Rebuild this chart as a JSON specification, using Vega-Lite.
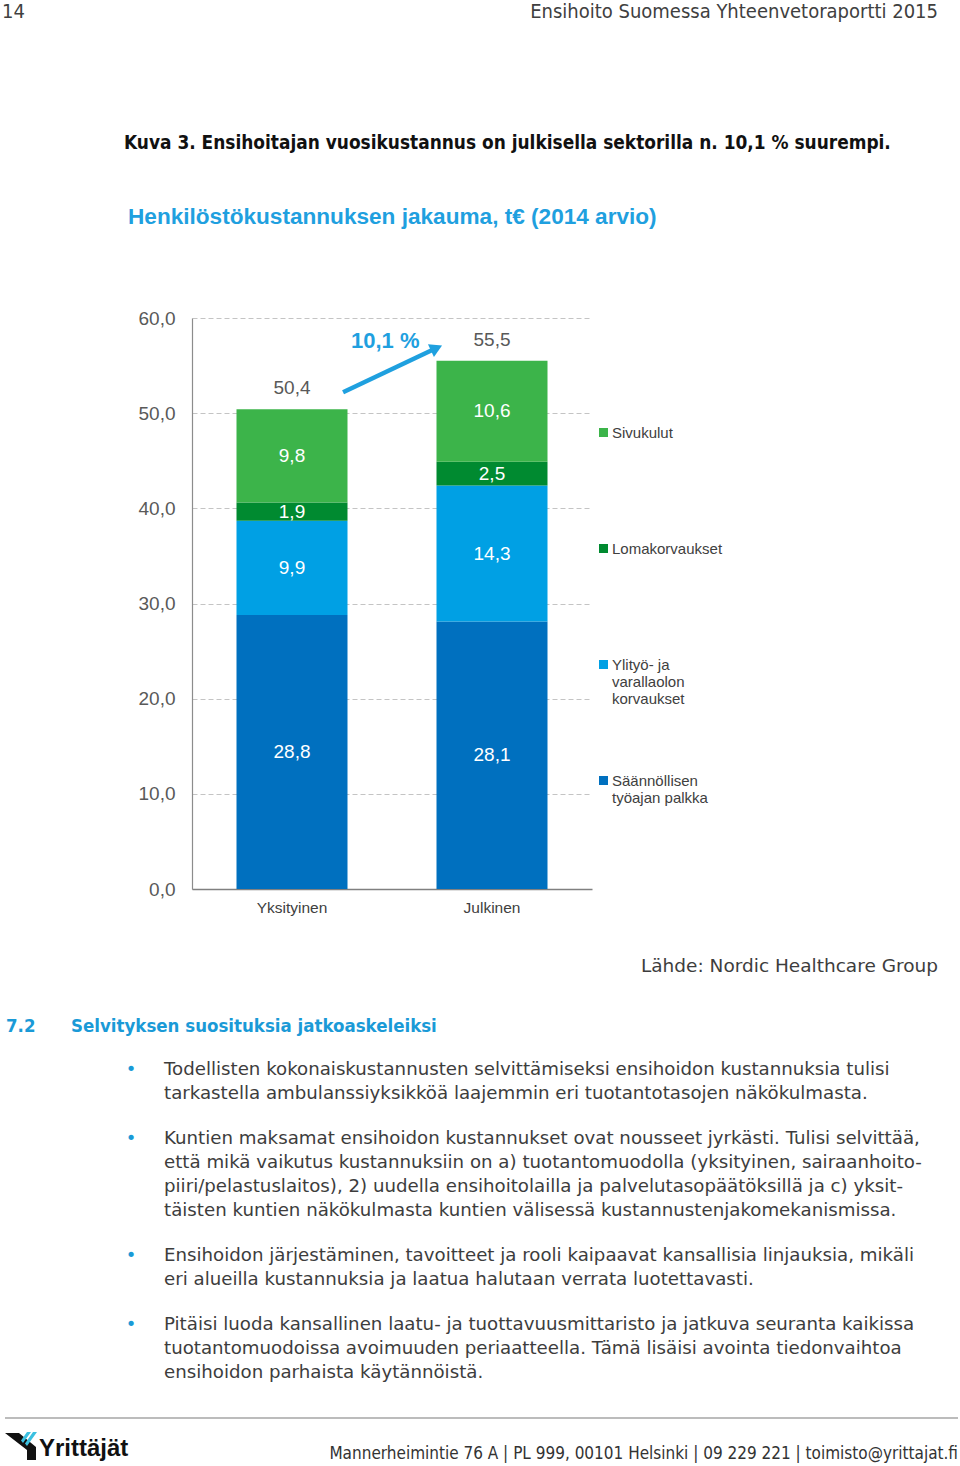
{
  "$schema": "https://vega.github.io/schema/vega-lite/v6.json",
  "padding": 0,
  "background": "#ffffff",
  "spacing": 0,
  "config": {
    "view": {"stroke": null},
    "locale": {"number": {"decimal": ",", "thousands": " ", "grouping": [3], "currency": ["", " €"]}}
  },
  "datasets": {
    "costs": [
      {"cat": "Yksityinen", "comp": "Säännöllisen työajan palkka", "ord": 1, "v": 28.8},
      {"cat": "Yksityinen", "comp": "Ylityö- ja varallaolon korvaukset", "ord": 2, "v": 9.9},
      {"cat": "Yksityinen", "comp": "Lomakorvaukset", "ord": 3, "v": 1.9},
      {"cat": "Yksityinen", "comp": "Sivukulut", "ord": 4, "v": 9.8},
      {"cat": "Julkinen", "comp": "Säännöllisen työajan palkka", "ord": 1, "v": 28.1},
      {"cat": "Julkinen", "comp": "Ylityö- ja varallaolon korvaukset", "ord": 2, "v": 14.3},
      {"cat": "Julkinen", "comp": "Lomakorvaukset", "ord": 3, "v": 2.5},
      {"cat": "Julkinen", "comp": "Sivukulut", "ord": 4, "v": 10.6}
    ],
    "totals": [{"cat": "Yksityinen", "v": 50.4}, {"cat": "Julkinen", "v": 55.5}],
    "arrow": [{"cat": "Yksityinen", "off": 0.96, "v": 52.2}, {"cat": "Julkinen", "off": 0.0, "v": 56.85}],
    "arrowhead": [{"cat": "Julkinen", "off": 0.0, "v": 56.85}],
    "growth": [{"cat": "Yksityinen", "off": 1.34, "v": 57.55, "t": "10,1 %"}]
  },
  "vconcat": [
    {"hconcat": [
      {"width": 1, "height": 24, "mark": "text", "data": {"values": []}},
      {"width": 2, "height": 24, "data": {"values": [{"t": "14"}]}, "mark": {"type": "text", "align": "left", "baseline": "middle", "font": "DejaVu Sans Condensed", "fontSize": 20, "color": "#404040"}, "encoding": {"text": {"field": "t"}}},
      {"width": 934, "height": 24, "mark": "text", "data": {"values": []}},
      {"width": 2, "height": 24, "data": {"values": [{"t": "Ensihoito Suomessa Yhteenvetoraportti 2015"}]}, "mark": {"type": "text", "align": "right", "baseline": "middle", "font": "DejaVu Sans Condensed", "fontSize": 20, "color": "#404040"}, "encoding": {"text": {"field": "t"}}}
    ], "spacing": 0, "bounds": "flush"},
    {"width": 1, "height": 109, "mark": "text", "data": {"values": []}},
    {"hconcat": [
      {"width": 123, "height": 20, "mark": "text", "data": {"values": []}},
      {"width": 2, "height": 20, "data": {"values": [{"t": "Kuva 3. Ensihoitajan vuosikustannus on julkisella sektorilla n. 10,1 % suurempi."}]}, "mark": {"type": "text", "align": "left", "baseline": "middle", "font": "DejaVu Sans Condensed", "fontSize": 18.9, "fontWeight": "bold", "color": "#111111"}, "encoding": {"text": {"field": "t"}}}
    ], "spacing": 0, "bounds": "flush"},
    {"width": 1, "height": 51.5, "mark": "text", "data": {"values": []}},
    {"hconcat": [
      {"width": 127, "height": 23, "mark": "text", "data": {"values": []}},
      {"width": 2, "height": 23, "data": {"values": [{"t": "Henkilöstökustannuksen jakauma, t€ (2014 arvio)"}]}, "mark": {"type": "text", "align": "left", "baseline": "middle", "font": "Liberation Sans", "fontSize": 22.6, "fontWeight": "bold", "color": "#1fa0df"}, "encoding": {"text": {"field": "t"}}}
    ], "spacing": 0, "bounds": "flush"},
    {"width": 1, "height": 79.5, "mark": "text", "data": {"values": []}},
    {"hconcat": [
      {"width": 192, "height": 571, "mark": "text", "data": {"values": []}},
      {
        "width": 400,
        "height": 571,
        "resolve": {"scale": {"xOffset": "independent"}},
        "encoding": {
          "x": {"field": "cat", "type": "nominal", "sort": ["Yksityinen", "Julkinen"],
            "scale": {"paddingInner": 0.445, "paddingOuter": 0.2225},
            "axis": {"title": null, "labelAngle": 0, "ticks": false, "domainColor": "#808080", "domainWidth": 1.5, "labelFont": "Liberation Sans", "labelFontSize": 15.5, "labelColor": "#404040", "labelPadding": 11}}
        },
        "layer": [
          {
            "data": {"name": "costs"},
            "mark": {"type": "bar"},
            "encoding": {
              "y": {"field": "v", "type": "quantitative", "stack": "zero", "scale": {"domain": [0, 60], "nice": false},
                "axis": {"title": null, "values": [0, 10, 20, 30, 40, 50, 60], "format": ".1f", "ticks": false, "grid": true, "gridColor": "#c4c4c4", "gridDash": [5, 3], "gridWidth": 1, "domainColor": "#8c8c8c", "domainWidth": 1.2, "labelFont": "Liberation Sans", "labelFontSize": 19, "labelColor": "#595959", "labelPadding": 17}},
              "color": {"field": "comp", "type": "nominal",
                "scale": {"domain": ["Sivukulut", "Lomakorvaukset", "Ylityö- ja varallaolon korvaukset", "Säännöllisen työajan palkka"], "range": ["#3cb44a", "#008a30", "#00a0e4", "#0070bf"]},
                "legend": {"title": null, "orient": "none", "legendX": 596, "legendY": 425, "padding": 0, "symbolType": "square", "symbolSize": 81, "symbolStrokeWidth": 0, "labelFont": "Liberation Sans", "labelFontSize": 15, "labelColor": "#404040", "labelOffset": 1, "rowPadding": 66, "labelLimit": 250,
                  "labelExpr": "datum.label == 'Sivukulut' ? ['Sivukulut', '', ''] : datum.label == 'Lomakorvaukset' ? ['Lomakorvaukset', '', ''] : datum.label == 'Säännöllisen työajan palkka' ? ['Säännöllisen', 'työajan palkka', ''] : ['Ylityö- ja', 'varallaolon', 'korvaukset']"}},
              "order": {"field": "ord", "type": "quantitative"}
            }
          },
          {
            "data": {"name": "costs"},
            "mark": {"type": "text", "color": "#ffffff", "font": "Liberation Sans", "fontSize": 19, "baseline": "middle"},
            "encoding": {
              "y": {"field": "v", "type": "quantitative", "stack": "zero", "bandPosition": 0.5},
              "detail": {"field": "comp"},
              "order": {"field": "ord", "type": "quantitative"},
              "text": {"field": "v", "type": "quantitative", "format": ".1f"}
            }
          },
          {
            "data": {"name": "totals"},
            "mark": {"type": "text", "color": "#595959", "font": "Liberation Sans", "fontSize": 19, "baseline": "bottom", "dy": -11},
            "encoding": {
              "y": {"field": "v", "type": "quantitative"},
              "text": {"field": "v", "type": "quantitative", "format": ".1f"}
            }
          },
          {
            "data": {"name": "arrow"},
            "mark": {"type": "line", "color": "#1fa0df", "strokeWidth": 4.5},
            "encoding": {
              "y": {"field": "v", "type": "quantitative"},
              "xOffset": {"field": "off", "type": "quantitative", "scale": {"domain": [0, 1]}}
            }
          },
          {
            "data": {"name": "arrowhead"},
            "mark": {"type": "point", "shape": "triangle-right", "angle": -25, "size": 200, "filled": true, "opacity": 1, "strokeWidth": 0, "color": "#1fa0df"},
            "encoding": {
              "y": {"field": "v", "type": "quantitative"},
              "xOffset": {"field": "off", "type": "quantitative", "scale": {"domain": [0, 1]}}
            }
          },
          {
            "data": {"name": "growth"},
            "mark": {"type": "text", "color": "#1fa0df", "font": "Liberation Sans", "fontSize": 22, "fontWeight": "bold", "baseline": "middle"},
            "encoding": {
              "y": {"field": "v", "type": "quantitative"},
              "xOffset": {"field": "off", "type": "quantitative", "scale": {"domain": [0, 1]}},
              "text": {"field": "t"}
            }
          }
        ]
      }
    ], "spacing": 0, "bounds": "flush"},
    {"width": 1, "height": 39.5, "mark": "text", "data": {"values": []}},
    {"hconcat": [
      {"width": 937, "height": 20, "mark": "text", "data": {"values": []}},
      {"width": 2, "height": 20, "data": {"values": [{"t": "Lähde: Nordic Healthcare Group"}]}, "mark": {"type": "text", "align": "right", "baseline": "middle", "font": "DejaVu Sans", "fontSize": 18.5, "color": "#3d3d3d"}, "encoding": {"text": {"field": "t"}}}
    ], "spacing": 0, "bounds": "flush"},
    {"width": 1, "height": 39, "mark": "text", "data": {"values": []}},
    {"hconcat": [
      {"width": 5, "height": 21, "mark": "text", "data": {"values": []}},
      {"width": 2, "height": 21, "data": {"values": [{"t": "7.2"}]}, "mark": {"type": "text", "align": "left", "baseline": "middle", "font": "DejaVu Sans Condensed", "fontSize": 18.5, "fontWeight": "bold", "color": "#1a9ad7"}, "encoding": {"text": {"field": "t"}}},
      {"width": 63, "height": 21, "mark": "text", "data": {"values": []}},
      {"width": 2, "height": 21, "data": {"values": [{"t": "Selvityksen suosituksia jatkoaskeleiksi"}]}, "mark": {"type": "text", "align": "left", "baseline": "middle", "font": "DejaVu Sans Condensed", "fontSize": 18.5, "fontWeight": "bold", "color": "#1a9ad7"}, "encoding": {"text": {"field": "t"}}}
    ], "spacing": 0, "bounds": "flush"},
    {"width": 1, "height": 11.5, "mark": "text", "data": {"values": []}},
    {"hconcat": [
      {"width": 130, "height": 10, "mark": "text", "data": {"values": []}},
      {"width": 2, "height": {"step": 24}, "data": {"values": [{"line": 1}]}, "mark": {"type": "text", "text": "•", "align": "center", "baseline": "middle", "font": "DejaVu Sans", "fontSize": 18, "color": "#1a9ad7"}, "encoding": {"y": {"field": "line", "type": "ordinal", "axis": null, "scale": {"type": "band", "paddingInner": 0, "paddingOuter": 0.427}}}},
      {"width": 31, "height": 10, "mark": "text", "data": {"values": []}},
      {"width": 2, "height": {"step": 24}, "data": {"values": [
        {"line": 1, "t": "Todellisten kokonaiskustannusten selvittämiseksi ensihoidon kustannuksia tulisi"},
        {"line": 2, "t": "tarkastella ambulanssiyksikköä laajemmin eri tuotantotasojen näkökulmasta."}
      ]}, "mark": {"type": "text", "align": "left", "baseline": "middle", "font": "DejaVu Sans", "fontSize": 18.2, "color": "#3d3d3d"}, "encoding": {"y": {"field": "line", "type": "ordinal", "axis": null, "scale": {"type": "band", "paddingInner": 0, "paddingOuter": 0.427}}, "text": {"field": "t"}}}
    ], "spacing": 0, "bounds": "flush"},
    {"hconcat": [
      {"width": 130, "height": 10, "mark": "text", "data": {"values": []}},
      {"width": 2, "height": {"step": 24}, "data": {"values": [{"line": 1}]}, "mark": {"type": "text", "text": "•", "align": "center", "baseline": "middle", "font": "DejaVu Sans", "fontSize": 18, "color": "#1a9ad7"}, "encoding": {"y": {"field": "line", "type": "ordinal", "axis": null, "scale": {"type": "band", "paddingInner": 0, "paddingOuter": 0.427}}}},
      {"width": 31, "height": 10, "mark": "text", "data": {"values": []}},
      {"width": 2, "height": {"step": 24}, "data": {"values": [
        {"line": 1, "t": "Kuntien maksamat ensihoidon kustannukset ovat nousseet jyrkästi. Tulisi selvittää,"},
        {"line": 2, "t": "että mikä vaikutus kustannuksiin on a) tuotantomuodolla (yksityinen, sairaanhoito-"},
        {"line": 3, "t": "piiri/pelastuslaitos), 2) uudella ensihoitolailla ja palvelutasopäätöksillä ja c) yksit-"},
        {"line": 4, "t": "täisten kuntien näkökulmasta kuntien välisessä kustannustenjakomekanismissa."}
      ]}, "mark": {"type": "text", "align": "left", "baseline": "middle", "font": "DejaVu Sans", "fontSize": 18.2, "color": "#3d3d3d"}, "encoding": {"y": {"field": "line", "type": "ordinal", "axis": null, "scale": {"type": "band", "paddingInner": 0, "paddingOuter": 0.427}}, "text": {"field": "t"}}}
    ], "spacing": 0, "bounds": "flush"},
    {"hconcat": [
      {"width": 130, "height": 10, "mark": "text", "data": {"values": []}},
      {"width": 2, "height": {"step": 24}, "data": {"values": [{"line": 1}]}, "mark": {"type": "text", "text": "•", "align": "center", "baseline": "middle", "font": "DejaVu Sans", "fontSize": 18, "color": "#1a9ad7"}, "encoding": {"y": {"field": "line", "type": "ordinal", "axis": null, "scale": {"type": "band", "paddingInner": 0, "paddingOuter": 0.427}}}},
      {"width": 31, "height": 10, "mark": "text", "data": {"values": []}},
      {"width": 2, "height": {"step": 24}, "data": {"values": [
        {"line": 1, "t": "Ensihoidon järjestäminen, tavoitteet ja rooli kaipaavat kansallisia linjauksia, mikäli"},
        {"line": 2, "t": "eri alueilla kustannuksia ja laatua halutaan verrata luotettavasti."}
      ]}, "mark": {"type": "text", "align": "left", "baseline": "middle", "font": "DejaVu Sans", "fontSize": 18.2, "color": "#3d3d3d"}, "encoding": {"y": {"field": "line", "type": "ordinal", "axis": null, "scale": {"type": "band", "paddingInner": 0, "paddingOuter": 0.427}}, "text": {"field": "t"}}}
    ], "spacing": 0, "bounds": "flush"},
    {"hconcat": [
      {"width": 130, "height": 10, "mark": "text", "data": {"values": []}},
      {"width": 2, "height": {"step": 24}, "data": {"values": [{"line": 1}]}, "mark": {"type": "text", "text": "•", "align": "center", "baseline": "middle", "font": "DejaVu Sans", "fontSize": 18, "color": "#1a9ad7"}, "encoding": {"y": {"field": "line", "type": "ordinal", "axis": null, "scale": {"type": "band", "paddingInner": 0, "paddingOuter": 0.427}}}},
      {"width": 31, "height": 10, "mark": "text", "data": {"values": []}},
      {"width": 2, "height": {"step": 24}, "data": {"values": [
        {"line": 1, "t": "Pitäisi luoda kansallinen laatu- ja tuottavuusmittaristo ja jatkuva seuranta kaikissa"},
        {"line": 2, "t": "tuotantomuodoissa avoimuuden periaatteella. Tämä lisäisi avointa tiedonvaihtoa"},
        {"line": 3, "t": "ensihoidon parhaista käytännöistä."}
      ]}, "mark": {"type": "text", "align": "left", "baseline": "middle", "font": "DejaVu Sans", "fontSize": 18.2, "color": "#3d3d3d"}, "encoding": {"y": {"field": "line", "type": "ordinal", "axis": null, "scale": {"type": "band", "paddingInner": 0, "paddingOuter": 0.427}}, "text": {"field": "t"}}}
    ], "spacing": 0, "bounds": "flush"},
    {"width": 1, "height": 20.5, "mark": "text", "data": {"values": []}},
    {"hconcat": [
      {"width": 5, "height": 1, "mark": "text", "data": {"values": []}},
      {"width": 953, "height": 1, "data": {"values": [{}]}, "mark": {"type": "rule", "color": "#a6a6a6", "strokeWidth": 1.5}, "encoding": {"y": {"datum": 0, "type": "quantitative", "scale": {"domain": [0, 1]}, "axis": null}}}
    ], "spacing": 0, "bounds": "flush"},
    {"width": 1, "height": 10.25, "mark": "text", "data": {"values": []}},
    {"hconcat": [
      {"width": 4, "height": 30, "mark": "text", "data": {"values": []}},
      {"width": 34, "height": 30, "data": {"values": [{}]}, "layer": [
        {"mark": {"type": "point", "shape": "M-0.941,-0.706L-0.118,-0.706L0.882,0.118L0.882,0.882L0.353,0.882L0.353,0.294Z", "size": 1156, "filled": true, "opacity": 1, "strokeWidth": 0, "color": "#111111"}, "encoding": {}},
        {"mark": {"type": "point", "shape": "M0.353,-0.765L0.588,-0.765L0.118,-0.118L0,-0.265ZM0.706,-0.765L0.941,-0.765L0.353,0.059L0.235,-0.088Z", "size": 1156, "filled": true, "opacity": 1, "strokeWidth": 0, "color": "#3cc0e0"}, "encoding": {}}
      ]},
      {"width": 2, "height": 14.4, "data": {"values": [{"t": "Yrittäjät"}]}, "mark": {"type": "text", "align": "left", "baseline": "top", "font": "Liberation Sans", "fontSize": 24, "fontWeight": "bold", "color": "#111111"}, "encoding": {"text": {"field": "t"}}},
      {"width": 917, "height": 30, "mark": "text", "data": {"values": []}},
      {"width": 2, "height": 32.8, "data": {"values": [{"t": "Mannerheimintie 76 A | PL 999, 00101 Helsinki | 09 229 221 | toimisto@yrittajat.fi"}]}, "mark": {"type": "text", "align": "right", "baseline": "top", "font": "DejaVu Sans Condensed", "fontSize": 17, "color": "#333333"}, "encoding": {"text": {"field": "t"}}}
    ], "spacing": 0, "bounds": "flush"}
  ]
}
